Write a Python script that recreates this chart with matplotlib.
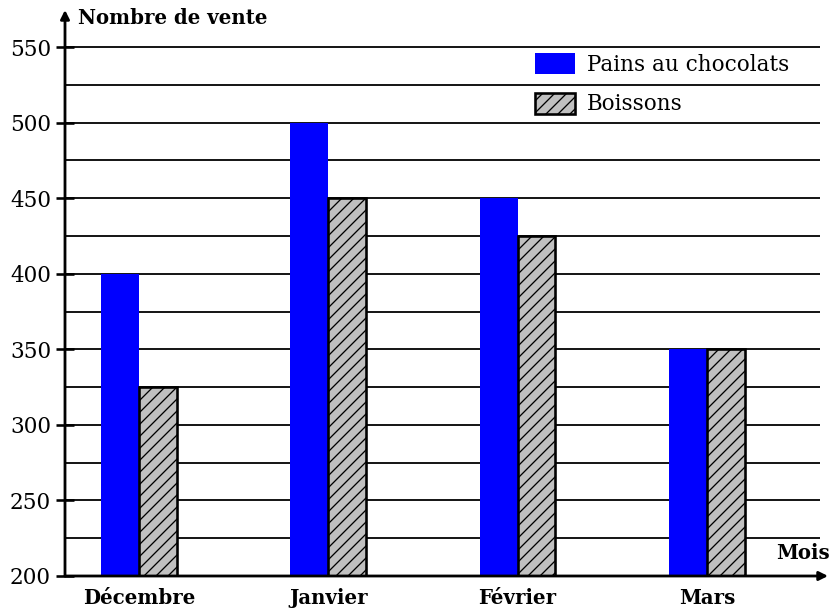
import matplotlib
matplotlib.use('Agg')
import matplotlib.pyplot as plt
import numpy as np

DPI = 108


def pt(px):
    # pixel size -> points at this dpi
    return px * 72 / DPI


plt.rcParams['font.family'] = ['DejaVu Serif']
plt.rcParams['hatch.linewidth'] = pt(1.3)

# data
mois = ['Décembre', 'Janvier', 'Février', 'Mars']
pains = [400, 500, 450, 350]
boissons = [325, 450, 425, 350]
series_labels = ['Pains au chocolats', 'Boissons']
y_ticks = [200, 250, 300, 350, 400, 450, 500, 550]
grid_levels = np.arange(225, 551, 25)

W, H = 832, 611
fig = plt.figure(figsize=(W / DPI, H / DPI), dpi=DPI)

# axes placed in pixel coordinates
ax_left, ax_right, ax_bottom, ax_top = 65, 828, 576, 10
ax = fig.add_axes([ax_left / W, (H - ax_bottom) / H,
                   (ax_right - ax_left) / W, (ax_bottom - ax_top) / H])

step = 189.3
x = np.arange(len(mois))
xmin = (ax_left - 139) / step
xmax = (ax_right - 139) / step
grid_end = (820 - 139) / step
ax.set_xlim(xmin, xmax)
ax.set_ylim(200, 200 + (ax_bottom - ax_top) / 1.5114)

w = 0.2
ax.hlines(grid_levels, xmin, grid_end, color='black', lw=pt(1.8), zorder=1)

ax.bar(x - w / 2, pains, w, color='#0000ff', edgecolor='none', zorder=2,
       label=series_labels[0])
ax.bar(x + w / 2, boissons, w, color='#c0c0c0', edgecolor='black', lw=pt(2.6),
       hatch='///', zorder=3, label=series_labels[1])

for s in ax.spines.values():
    s.set_visible(False)

# axes with arrows
for tip in [(0, 1), (1, 0)]:
    ax.annotate('', xy=tip, xytext=(0, 0), xycoords='axes fraction',
                arrowprops=dict(arrowstyle='-|>', lw=pt(2.8), color='black',
                                mutation_scale=pt(18), shrinkA=0, shrinkB=0),
                zorder=5)

fs = pt(21.5)
fs_b = pt(19.8)
ax.set_yticks(y_ticks)
ax.tick_params(axis='y', direction='inout', length=pt(18), width=pt(2.6),
               pad=pt(5), labelsize=fs)
ax.set_xticks(x)
ax.set_xticklabels(mois, fontsize=fs_b, fontweight='bold')
ax.tick_params(axis='x', length=0, pad=pt(12))

fig.text(78 / W, 1 - 18 / H, 'Nombre de vente', fontsize=fs_b, fontweight='bold',
         ha='left', va='center')
fig.text(830 / W, 1 - 553 / H, 'Mois', fontsize=fs_b, fontweight='bold',
         ha='right', va='center')

fig.legend(loc='upper left', bbox_to_anchor=(535 / W, 1 - 53 / H),
           frameon=False, fontsize=fs, borderpad=0, borderaxespad=0,
           handlelength=40 / 21.5, handleheight=24 / 21.5,
           labelspacing=17 / 21.5, handletextpad=12 / 21.5)

fig.savefig('out.png', dpi=DPI)
